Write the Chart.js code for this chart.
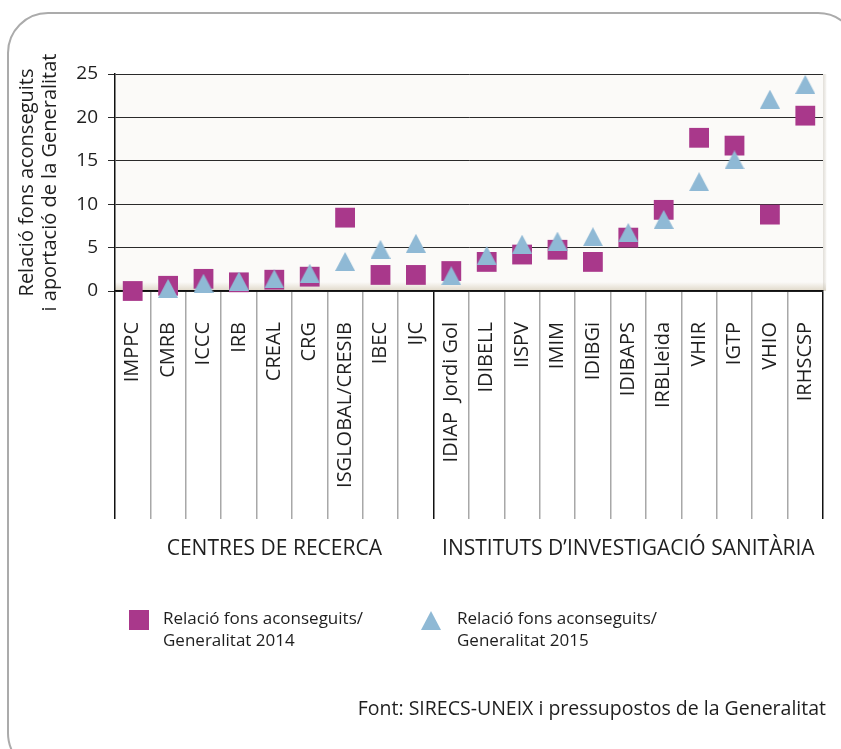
<!DOCTYPE html>
<html>
<head>
<meta charset="utf-8">
<script src="https://cdn.jsdelivr.net/npm/chart.js@4.4.0/dist/chart.umd.min.js"></script>
<style>
  html, body { margin: 0; padding: 0; background: #fff; }
  canvas { display: block; }
</style>
</head>
<body>
<canvas id="fonsChart" width="841" height="749"></canvas>
<script>
// centres / instituts shown on the x axis
const centres = ['IMPPC', 'CMRB', 'ICCC', 'IRB', 'CREAL', 'CRG', 'ISGLOBAL/CRESIB', 'IBEC', 'IJC',
                 'IDIAP  Jordi Gol', 'IDIBELL', 'IISPV', 'IMIM', 'IDIBGi', 'IDIBAPS', 'IRBLleida',
                 'VHIR', 'IGTP', 'VHIO', 'IRHSCSP'];

// ratio of funds obtained / Generalitat contribution
const ratio2014 = [0.0, 0.6, 1.4, 1.0, 1.3, 1.65, 8.45, 1.85, 1.85, 2.3, 3.35, 4.2, 4.75, 3.35, 6.15, 9.35, 17.65, 16.75, 8.8, 20.2];
const ratio2015 = [null, 0.3, 0.9, 1.15, 1.4, 2.05, 3.4, 4.8, 5.5, 1.75, 4.1, 5.4, 5.75, 6.25, 6.75, 8.25, 12.6, 15.1, 22.1, 23.8];

const groupNames = ['CENTRES DE RECERCA', 'INSTITUTS D\u2019INVESTIGACIÓ SANITÀRIA'];
const groupEnds = [9, 20];   // grid line index that closes each group
const legendLabels = [['Relació fons aconseguits/', 'Generalitat 2014'], ['Relació fons aconseguits/', 'Generalitat 2015']];
const yTitle = ['Relació fons aconseguits', 'i aportació de la Generalitat'];
const sourceNote = 'Font: SIRECS-UNEIX i pressupostos de la Generalitat';

const FONT = "'Open Sans', sans-serif";
const PURPLE = '#a9388b';
const BLUE = '#8fb9d5';
const TEXT = '#1e1e1e';

// triangle marker centred on its box, like the original
function makeTriangle(w, h, color) {
    const c = document.createElement('canvas');
    c.width = w; c.height = h;
    const g = c.getContext('2d');
    g.fillStyle = color;
    g.beginPath();
    g.moveTo(w / 2, 0);
    g.lineTo(w, h);
    g.lineTo(0, h);
    g.closePath();
    g.fill();
    return c;
}
const triangle = makeTriangle(20, 19, BLUE);

const decor = {
    id: 'decor',
    beforeDraw(chart) {
        const ctx = chart.ctx;
        const a = chart.chartArea;
        ctx.save();
        // rounded frame
        ctx.strokeStyle = '#ababab';
        ctx.lineWidth = 2;
        ctx.beginPath();
        ctx.roundRect(8, 13, 850, 760, 40);
        ctx.stroke();
        // plot background
        ctx.fillStyle = '#fbfaf8';
        ctx.fillRect(a.left, a.top, a.right - a.left + 3, a.bottom - a.top);
        let grad = ctx.createLinearGradient(0, a.bottom - 9, 0, a.bottom);
        grad.addColorStop(0, 'rgba(220,212,195,0)');
        grad.addColorStop(1, 'rgba(220,212,195,0.9)');
        ctx.fillStyle = grad;
        ctx.fillRect(a.left, a.bottom - 9, a.right - a.left + 3, 9);
        grad = ctx.createLinearGradient(a.right, 0, a.right + 4, 0);
        grad.addColorStop(0, 'rgba(200,195,185,0.5)');
        grad.addColorStop(1, 'rgba(200,195,185,0)');
        ctx.fillStyle = grad;
        ctx.fillRect(a.right, a.top, 4, a.bottom - a.top);
        ctx.restore();
    },
    afterDraw(chart) {
        const ctx = chart.ctx;
        const x = chart.scales.x;
        const step = x.getPixelForValue(1) - x.getPixelForValue(0);
        ctx.save();
        ctx.fillStyle = TEXT;
        ctx.textBaseline = 'middle';

        // group names under the category labels
        ctx.font = '21px ' + FONT;
        ctx.textAlign = 'center';
        let start = 0;
        groupEnds.forEach((end, i) => {
            const left = x.getPixelForValue(start) - step / 2;
            const right = x.getPixelForValue(end - 1) + step / 2;
            ctx.fillText(groupNames[i], (left + right) / 2, 549);
            start = end;
        });

        // legend
        ctx.textAlign = 'left';
        ctx.font = '17px ' + FONT;
        ctx.fillStyle = PURPLE;
        ctx.fillRect(129, 610, 20, 20);
        ctx.drawImage(triangle, 421, 611);
        ctx.fillStyle = TEXT;
        [163, 457].forEach((tx, i) => {
            ctx.fillText(legendLabels[i][0], tx, 619);
            ctx.fillText(legendLabels[i][1], tx, 641);
        });

        // source
        ctx.font = '19.5px ' + FONT;
        ctx.textAlign = 'right';
        ctx.fillText(sourceNote, 826, 709);
        ctx.restore();
    }
};

const ctx = document.getElementById('fonsChart').getContext('2d');
const fonsChart = new Chart(ctx, {
    type: 'line',
    data: {
        labels: centres,
        datasets: [{
            label: 'Relació fons aconseguits/Generalitat 2014',
            data: ratio2014,
            showLine: false,
            pointStyle: 'rect',
            pointRadius: 14,
            pointHoverRadius: 14,
            pointBackgroundColor: PURPLE,
            pointBorderWidth: 0,
            clip: false,
            order: 1
        }, {
            label: 'Relació fons aconseguits/Generalitat 2015',
            data: ratio2015,
            showLine: false,
            pointStyle: triangle,
            pointRadius: 10,
            pointBackgroundColor: BLUE,
            pointBorderWidth: 0,
            clip: false,
            order: 0
        }]
    },
    options: {
        responsive: false,
        animation: false,
        events: [],
        layout: { padding: { top: 74, right: 18, left: 0, bottom: 0 } },
        plugins: {
            legend: { display: false },
            tooltip: { enabled: false }
        },
        scales: {
            x: {
                offset: true,
                afterFit: s => { s.height = 458; },
                grid: {
                    offset: true,
                    drawOnChartArea: false,
                    tickLength: 228,
                    lineWidth: 1.5,
                    color: c => (c.type === 'scale' || c.index === 0 || c.index === 9) ? '#111' : '#a8a8a8'
                },
                border: { color: '#111', width: 1.5 },
                ticks: {
                    autoSkip: false,
                    minRotation: 90,
                    maxRotation: 90,
                    padding: -197,
                    color: TEXT,
                    font: { family: FONT, size: 20 }
                }
            },
            y: {
                min: 0,
                max: 25,
                afterFit: s => { s.width = 115; },
                grid: { color: '#2a2a2a', lineWidth: 1, tickLength: 7 },
                border: { color: '#111', width: 1.5 },
                ticks: {
                    stepSize: 5,
                    padding: 10,
                    color: TEXT,
                    font: { family: FONT, size: 19 }
                },
                title: {
                    display: true,
                    text: yTitle,
                    color: TEXT,
                    padding: { top: 15.5, bottom: 0 },
                    font: { family: FONT, size: 20, lineHeight: 1.15 }
                }
            }
        }
    },
    plugins: [decor]
});
</script>
</body>
</html>
